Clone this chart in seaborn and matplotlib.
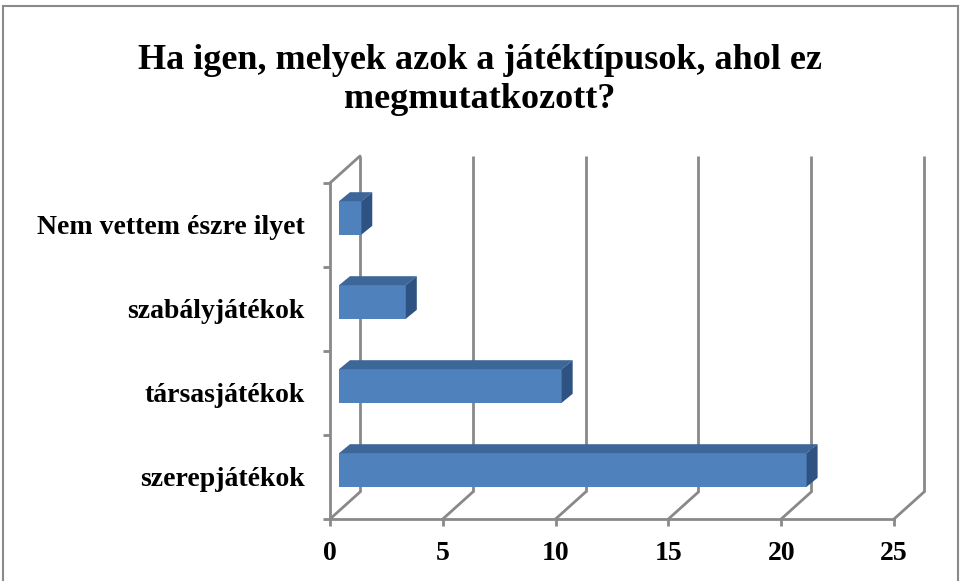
import matplotlib
matplotlib.use("Agg")
import matplotlib.pyplot as plt
import seaborn as sns
import pandas as pd
import numpy as np
from matplotlib.transforms import ScaledTranslation, IdentityTransform
from matplotlib.patches import Polygon, Rectangle

categories = ["Nem vettem észre ilyet", "szabályjátékok", "társasjátékok", "szerepjátékok"]
values = [1, 3, 10, 21]
xticks = [0, 5, 10, 15, 20, 25]
title = "Ha igen, melyek azok a játéktípusok, ahol ez\nmegmutatkozott?"

W, H, DPI = 961, 581, 100
sns.set_theme(style="white")
plt.rcParams['font.family'] = ['Liberation Serif', 'DejaVu Serif']
plt.rcParams['text.color'] = 'black'

fig = plt.figure(figsize=(W / DPI, H / DPI), dpi=DPI)
# front plane of the plot area (pixels)
x0p, x1p, ybot, ytop = 330, 894, 519, 183
ax = fig.add_axes([x0p / W, (H - ybot) / H, (x1p - x0p) / W, (ybot - ytop) / H])

df = pd.DataFrame({"cat": categories, "val": values})
GRID = "#898989"
FRONT = "#4F81BD"
TOP = "#3D6699"
SIDE = "#2E5281"

# depth offsets in pixels
BACK_DX, BACK_DY = 30, 27
BAR_DX, BAR_DY = 9, 7
BAR_DEPTH_X, BAR_DEPTH_Y = 11, 9
DEPTH_SCALE = 0.987  # slight shrink of the bar plane (set back from the front)

def off(dx, dy):
    return ax.transData + ScaledTranslation(dx / DPI, dy / DPI, fig.dpi_scale_trans)

ax.set_xlim(0, 25)
ax.set_ylim(len(categories) - 0.5, -0.5)

# back wall gridlines
ax.vlines(xticks, len(categories) - 0.5, -0.5, colors=GRID, lw=2,
          transform=off(BACK_DX, BACK_DY), clip_on=False, zorder=1)
# floor diagonals and top-left diagonal
ident = IdentityTransform()
for v in xticks:
    p = ax.transData.transform((v, len(categories) - 0.5))
    ax.plot([p[0], p[0] + BACK_DX], [p[1], p[1] + BACK_DY], color=GRID, lw=2,
            transform=ident, clip_on=False, zorder=1)
ptop = ax.transData.transform((0, -0.5))
ax.plot([ptop[0], ptop[0] + BACK_DX], [ptop[1], ptop[1] + BACK_DY], color=GRID, lw=2,
        transform=ident, clip_on=False, zorder=1)

# bars (front faces)
sns.barplot(data=df, x="val", y="cat", order=categories, orient="h",
            color=FRONT, saturation=1, width=0.4, ax=ax, zorder=3)
for patch in ax.patches:
    patch.set_transform(off(BAR_DX, BAR_DY))
    patch.set_width(patch.get_width() * DEPTH_SCALE)
    patch.set_edgecolor("none")
    patch.set_clip_on(False)
    patch.set_zorder(4)

fig.canvas.draw()
for patch in list(ax.patches):
    x, y, w, h = patch.get_x(), patch.get_y(), patch.get_width(), patch.get_height()
    tr = off(BAR_DX, BAR_DY)
    (lx, by), (rx, ty) = tr.transform((x, y + h)), tr.transform((x + w, y))
    top = Polygon([(lx, ty), (rx, ty), (rx + BAR_DEPTH_X, ty + BAR_DEPTH_Y),
                   (lx + BAR_DEPTH_X, ty + BAR_DEPTH_Y)], closed=True,
                  facecolor=TOP, edgecolor="none", transform=ident, clip_on=False, zorder=4)
    side = Polygon([(rx, by), (rx, ty), (rx + BAR_DEPTH_X, ty + BAR_DEPTH_Y),
                    (rx + BAR_DEPTH_X, by + BAR_DEPTH_Y)], closed=True,
                   facecolor=SIDE, edgecolor="none", transform=ident, clip_on=False, zorder=4)
    ax.add_artist(top)
    ax.add_artist(side)

for s in ["top", "right"]:
    ax.spines[s].set_visible(False)
for s in ["left", "bottom"]:
    ax.spines[s].set_color(GRID)
    ax.spines[s].set_linewidth(2)
    ax.spines[s].set_zorder(2)

ax.set_xticks(xticks)
ax.set_xticklabels([str(t) for t in xticks], fontsize=20, fontweight="bold", color="black")
ax.set_yticks(range(len(categories)))
ax.set_yticklabels(categories, fontsize=20, fontweight="bold", color="black")
ax.set_yticks(np.arange(-0.5, len(categories), 1), minor=True)
ax.tick_params(axis="y", which="major", length=0, pad=18)
ax.tick_params(axis="y", which="minor", length=5, width=2, color=GRID, left=True)
ax.tick_params(axis="x", which="major", length=5, width=2, color=GRID, bottom=True, pad=11)
ax.set_xlabel("")
ax.set_ylabel("")
ax.grid(False)
ax.set_facecolor("none")

fig.text(480 / W, 1 - 80 / H, title, ha="center", va="center", fontsize=26,
         fontweight="bold", linespacing=1.25, color="black")

# chart border
fig.add_artist(Rectangle((3, -5), W - 6, H + 2 - 3, transform=ident, fill=False,
                         edgecolor="#8a8a8a", lw=1.5))

fig.savefig("out.png", dpi=DPI)
